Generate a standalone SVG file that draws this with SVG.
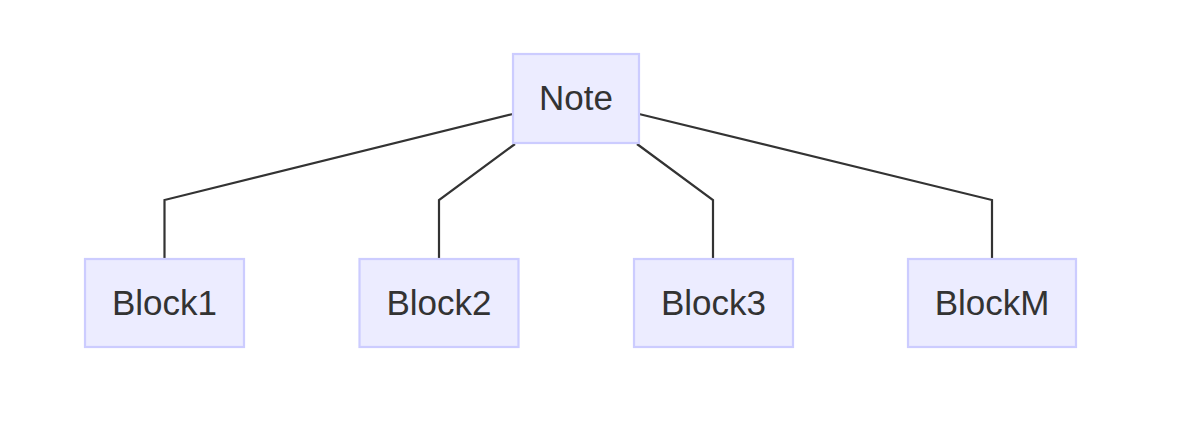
<svg xmlns="http://www.w3.org/2000/svg" width="1200" height="448" viewBox="0 0 1200 448">
<style>
.node rect{fill:#ECECFF;stroke:#CCCCFF;stroke-width:2.2}
.node text{font-family:"Liberation Sans",Arial,sans-serif;font-size:35px;fill:#333333;text-anchor:middle}
.edges path{fill:none;stroke:#333333;stroke-width:2.2}
</style>
<rect width="1200" height="448" fill="#ffffff"/>
<g class="edges" id="connectors">
<path d="M513,114 L164.5,200 L164.5,259"/>
<path d="M515,144 L439,200 L439,259"/>
<path d="M637,144 L713,200 L713,259"/>
<path d="M639,114 L992,200 L992,259"/>
</g>
<g class="node" id="Note"><rect x="513" y="54" width="126" height="89"/><text x="576" y="110">Note</text></g>
<g class="node" id="Block1"><rect x="85" y="259" width="159" height="88"/><text x="164.5" y="315">Block1</text></g>
<g class="node" id="Block2"><rect x="359.5" y="259" width="159" height="88"/><text x="439" y="315">Block2</text></g>
<g class="node" id="Block3"><rect x="634" y="259" width="159" height="88"/><text x="713.5" y="315">Block3</text></g>
<g class="node" id="BlockM"><rect x="908" y="259" width="168" height="88"/><text x="992" y="315">BlockM</text></g>
</svg>
